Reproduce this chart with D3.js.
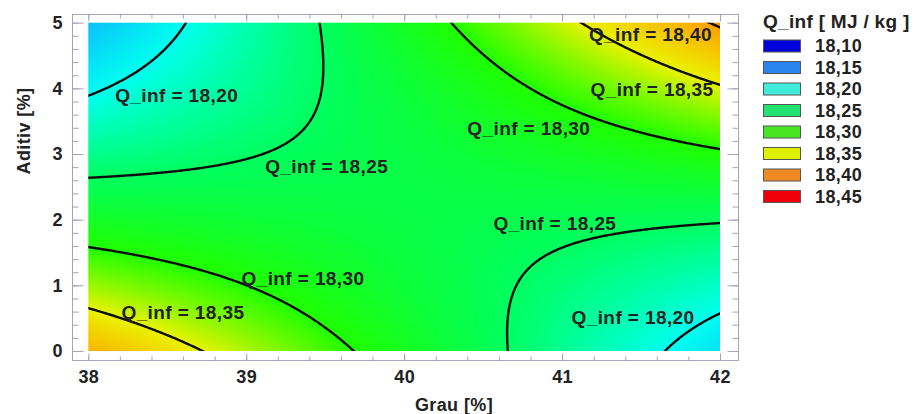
<!DOCTYPE html>
<html>
<head>
<meta charset="utf-8">
<script src="https://cdn.jsdelivr.net/npm/d3@7"></script>
<style>
  html, body { margin: 0; padding: 0; background: #fff; }
  svg { display: block; font-family: "Liberation Sans", Arial, sans-serif; font-weight: bold; }
  text { fill: #222; letter-spacing: 0.4px; }
</style>
</head>
<body>
<svg id="chart" width="919" height="414"></svg>
<script>
// Second-order response surface for Q_inf, coefficients in centred units
// (Grau - 40, Aditiv - 2.5): b0, Grau, Aditiv, Grau^2, Aditiv^2, Grau*Aditiv
const modelTerms = ["b0", "Grau", "Aditiv", "Grau^2", "Aditiv^2", "Grau*Aditiv"];
const modelCoefs = [18.2628, 0.00433, -0.0003, 0.0005, 0.0032, 0.0223];
const designCenter = [40, 2.5];

const grauDomain = [38, 42];
const aditivDomain = [0, 5];
const grauTicks = [38, 39, 40, 41, 42];
const aditivTicks = [0, 1, 2, 3, 4, 5];

// Iso-lines drawn on the surface
const contourLevels = [18.20, 18.25, 18.30, 18.35, 18.40];

// Iso-line labels: level and the (Grau, Aditiv) point where each label starts
const labelLevels = [18.20, 18.25, 18.30, 18.35, 18.25, 18.20, 18.30, 18.35, 18.40];
const labelGrau = [38.17, 39.12, 38.97, 38.21, 40.565, 41.06, 40.40, 41.18, 41.17];
const labelAditiv = [3.90, 2.82, 1.11, 0.59, 1.95, 0.51, 3.40, 3.99, 4.82];

// Legend classes
const legendLevels = [18.10, 18.15, 18.20, 18.25, 18.30, 18.35, 18.40, 18.45];
const legendColors = ["#0000dc", "#2a84f0", "#42ecdc", "#22e270", "#46e620", "#dcf000", "#f08a22", "#f00008"];
const surfaceColors = ["#0000ff", "#10a8ff", "#00fff0", "#00ff60", "#20ff00", "#eaf200", "#ffa000", "#ff0000"];

const deFormat = d3.formatLocale({ decimal: ",", thousands: ".", grouping: [3], currency: ["", " €"] }).format(".2f");

function qInf(grau, aditiv) {
  const u = grau - designCenter[0], v = aditiv - designCenter[1];
  const basis = [1, u, v, u * u, v * v, u * v];
  return d3.sum(basis, (b, i) => b * modelCoefs[i]);
}

const svg = d3.select("#chart");
const plot = { left: 88.3, right: 720, top: 22.7, bottom: 351 };
const frame = { left: 72, right: 738, top: 14, bottom: 360 };

const x = d3.scaleLinear().domain(grauDomain).range([plot.left, plot.right]);
const y = d3.scaleLinear().domain(aditivDomain).range([plot.bottom, plot.top]);
const color = d3.scaleLinear().domain(legendLevels).range(surfaceColors).clamp(true);

// ---- colour-shaded surface raster ----
const W = Math.round(plot.right - plot.left), H = Math.round(plot.bottom - plot.top);
const canvas = document.createElement("canvas");
canvas.width = W; canvas.height = H;
const ctx = canvas.getContext("2d");
const img = ctx.createImageData(W, H);
for (let j = 0; j < H; j++) {
  const a = y.invert(plot.top + (j + 0.5) * (plot.bottom - plot.top) / H);
  for (let i = 0; i < W; i++) {
    const g = x.invert(plot.left + (i + 0.5) * (plot.right - plot.left) / W);
    const c = d3.rgb(color(qInf(g, a)));
    const k = (j * W + i) * 4;
    img.data[k] = c.r; img.data[k + 1] = c.g; img.data[k + 2] = c.b; img.data[k + 3] = 255;
  }
}
ctx.putImageData(img, 0, 0);
svg.append("image")
  .attr("x", plot.left).attr("y", plot.top)
  .attr("width", plot.right - plot.left).attr("height", plot.bottom - plot.top)
  .attr("preserveAspectRatio", "none")
  .attr("href", canvas.toDataURL());

// ---- iso-lines ----
svg.append("clipPath").attr("id", "plotClip")
  .append("rect")
  .attr("x", plot.left).attr("y", plot.top)
  .attr("width", plot.right - plot.left).attr("height", plot.bottom - plot.top);

const g0 = grauDomain[0] - 0.2, a0 = aditivDomain[0] - 0.25;
const dg = 0.01, da = 0.0125;
const nx = Math.round((grauDomain[1] + 0.2 - g0) / dg) + 1;
const ny = Math.round((aditivDomain[1] + 0.25 - a0) / da) + 1;
const grid = new Float64Array(nx * ny);
for (let j = 0; j < ny; j++) for (let i = 0; i < nx; i++) grid[j * nx + i] = qInf(g0 + i * dg, a0 + j * da);

const contours = d3.contours().size([nx, ny]).thresholds(contourLevels)(grid);
const gridProjection = d3.geoTransform({
  point(px, py) { this.stream.point(x(g0 + (px - 0.5) * dg), y(a0 + (py - 0.5) * da)); }
});
const contourPath = d3.geoPath(gridProjection);

svg.append("g").attr("clip-path", "url(#plotClip)")
  .selectAll("path").data(contours).join("path")
  .attr("d", contourPath)
  .attr("fill", "none")
  .attr("stroke", "#0d0d0d")
  .attr("stroke-width", 2.4)
  .attr("stroke-linejoin", "round");

// ---- iso-line labels ----
svg.append("g").selectAll("text").data(labelLevels).join("text")
  .attr("x", (d, i) => x(labelGrau[i]))
  .attr("y", (d, i) => y(labelAditiv[i]))
  .attr("dy", "0.36em")
  .style("font-size", "19px")
  .style("letter-spacing", "0.4px")
  .text(d => "Q_inf = " + deFormat(d));

// ---- frame and tick marks ----
const frameColor = "#a4a4b8";
svg.append("rect")
  .attr("x", frame.left + 0.5).attr("y", frame.top + 0.5)
  .attr("width", frame.right - frame.left).attr("height", frame.bottom - frame.top)
  .attr("fill", "none").attr("stroke", frameColor);

const minorX = d3.range(grauDomain[0], grauDomain[1] + 1e-9, 0.2);
const minorY = d3.range(aditivDomain[0], aditivDomain[1] + 1e-9, 0.2);

function tickSet(axisFn, scale, values, size, tx, ty) {
  const gAxis = svg.append("g").attr("transform", `translate(${tx},${ty})`)
    .call(axisFn(scale).tickValues(values).tickSize(size).tickFormat(""));
  gAxis.select(".domain").remove();
  gAxis.selectAll("line").attr("stroke", frameColor);
}
// bottom (ticks pointing up), top (pointing down), left (pointing right), right (pointing left)
tickSet(d3.axisTop, x, minorX, 4, 0, frame.bottom + 0.5);
tickSet(d3.axisTop, x, grauTicks, 7, 0, frame.bottom + 0.5);
tickSet(d3.axisBottom, x, minorX, 4, 0, frame.top + 0.5);
tickSet(d3.axisBottom, x, grauTicks, 7, 0, frame.top + 0.5);
tickSet(d3.axisRight, y, minorY, 6, frame.left + 0.5, 0);
tickSet(d3.axisRight, y, aditivTicks, 11, frame.left + 0.5, 0);
tickSet(d3.axisLeft, y, minorY, 6, frame.right + 0.5, 0);
tickSet(d3.axisLeft, y, aditivTicks, 11, frame.right + 0.5, 0);

// ---- tick labels ----
const xLab = svg.append("g").attr("transform", `translate(0,${frame.bottom})`)
  .call(d3.axisBottom(x).tickValues(grauTicks).tickSize(0).tickPadding(10).tickFormat(d3.format("d")));
xLab.select(".domain").remove();
xLab.selectAll("text").attr("font-size", null).attr("font-family", null).style("font-size", "18px").attr("fill", null);

const yLab = svg.append("g").attr("transform", `translate(${frame.left},0)`)
  .call(d3.axisLeft(y).tickValues(aditivTicks).tickSize(0).tickPadding(9).tickFormat(d3.format("d")));
yLab.select(".domain").remove();
yLab.selectAll("text").attr("font-size", null).attr("font-family", null).style("font-size", "18px").attr("fill", null);

// ---- axis titles ----
svg.append("text")
  .attr("x", 454).attr("y", 411)
  .attr("text-anchor", "middle")
  .style("font-size", "18px")
  .text("Grau [%]");

svg.append("text")
  .attr("transform", "translate(30,131) rotate(-90)")
  .attr("text-anchor", "middle")
  .style("font-size", "18px")
  .text("Aditiv [%]");

// ---- legend ----
const legend = svg.append("g").attr("transform", "translate(763,0)");
legend.append("text")
  .attr("x", 0).attr("y", 28)
  .style("font-size", "19px")
  .style("letter-spacing", "0.3px")
  .text("Q_inf [ MJ / kg ]");

const rows = legend.selectAll("g.row").data(legendLevels).join("g")
  .attr("class", "row")
  .attr("transform", (d, i) => `translate(0,${46 + i * 21.5})`);
rows.append("rect")
  .attr("x", 0.5).attr("y", -6)
  .attr("width", 37).attr("height", 12)
  .attr("fill", (d, i) => legendColors[i])
  .attr("stroke", "#555").attr("stroke-width", 1);
rows.append("text")
  .attr("x", 52).attr("dy", "0.36em")
  .style("font-size", "18px")
  .text(d => deFormat(d));
</script>
</body>
</html>
